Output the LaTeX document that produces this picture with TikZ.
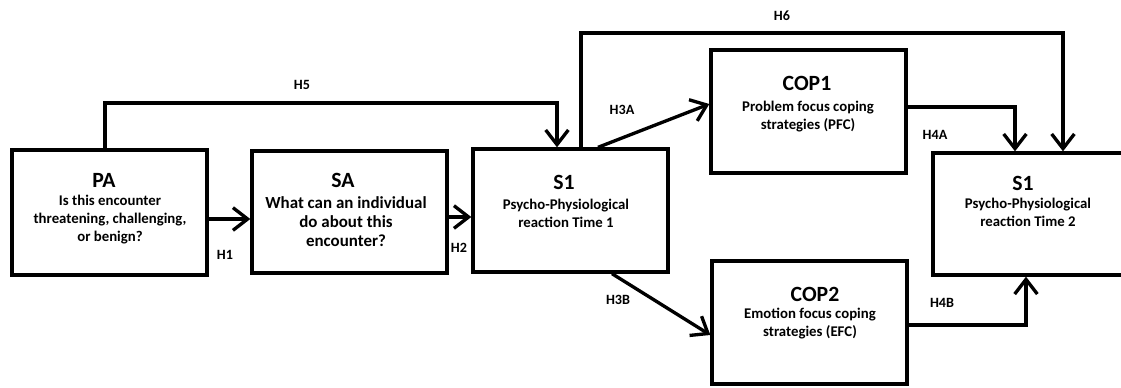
\documentclass[tikz,border=0pt]{standalone}
\usepackage{fontspec}
\setmainfont{Carlito}
\usetikzlibrary{arrows.meta}
\begin{document}
\begin{tikzpicture}[x=0.75pt,y=-0.75pt,
  box/.style={draw=black,line width=2.5pt,rectangle,inner sep=0pt},
  ttl/.style={font=\bfseries\fontsize{16.3}{18}\selectfont,inner sep=0pt},
  body/.style={font=\bfseries\fontsize{11.1}{13.5}\selectfont,align=center,inner sep=0pt},
  bodyL/.style={font=\bfseries\fontsize{12.7}{14.3}\selectfont,align=center,inner sep=0pt},
  lab/.style={font=\bfseries\fontsize{10.6}{12}\selectfont,inner sep=0pt},
  conn/.style={line width=2.5pt,-{Straight Barb[length=11pt,width=17pt,line width=2.5pt]}},
]
\useasboundingbox (0,0) rectangle (1121,387);
\clip (0,0) rectangle (1121,387);
% boxes
\node[box,minimum width=195*0.75pt,minimum height=125*0.75pt] (PA) at (109.5,212.5) {};
\node[box,minimum width=195*0.75pt,minimum height=122*0.75pt] (SA) at (349.5,212) {};
\node[box,minimum width=195*0.75pt,minimum height=123*0.75pt] (S1) at (570.5,210.5) {};
\node[box,minimum width=195*0.75pt,minimum height=123*0.75pt] (COP1) at (808.5,111.5) {};
\node[box,minimum width=195*0.75pt,minimum height=123*0.75pt] (COP2) at (809.5,322.5) {};
\node[box,minimum width=200*0.75pt,minimum height=122*0.75pt] (S2) at (1033,214) {};
% texts
\node[ttl] (PAt) at (104,180) {PA};
\node[body] (PAb) at (110,220) {Is this encounter\\threatening, challenging,\\or benign?};
\node[ttl] (SAt) at (343,180) {SA};
\node[bodyL] (SAb) at (346,222) {What can an individual\\do about this\\encounter?};
\node[ttl] (S1t) at (564,182) {S1};
\node[body] (S1b) at (566,213) {Psycho-Physiological\\reaction Time 1};
\node[ttl] (C1t) at (807,83) {COP1};
\node[body] (C1b) at (808,116.5) {Problem focus coping\\strategies (PFC)};
\node[ttl] (C2t) at (815,294) {COP2};
\node[body] (C2b) at (810,324) {Emotion focus coping\\strategies (EFC)};
\node[ttl] (S2t) at (1023,183) {S1};
\node[body] (S2b) at (1028,212.5) {Psycho-Physiological\\reaction Time 2};
% labels
\node[lab] (lH5) at (302,85) {H5};
\node[lab] (lH1) at (225,255) {H1};
\node[lab] (lH2) at (459,248) {H2};
\node[lab] (lH3A) at (622,110) {H3A};
\node[lab] (lH3B) at (618,300) {H3B};
\node[lab] (lH6) at (782,16) {H6};
\node[lab] (lH4A) at (935,135) {H4A};
\node[lab] (lH4B) at (942,303) {H4B};
% connectors
\draw[conn] (PA.east |- 0,219) -- (SA.west |- 0,219);
\draw[conn] (SA.east |- 0,217) -- (S1.west |- 0,217);
\draw[conn] (PA.north -| 105,0) -- (105,103) -- (557,103) -- (S1.north -| 557,0);
\draw[conn] (S1.north -| 581,0) -- (581,33) -- (1063,33) -- (S2.north -| 1063,0);
\draw[conn] (S1.north -| 598,0) -- (COP1.west |- 0,104);
\draw[conn] (S1.south -| 612,0) -- (COP2.west |- 0,335);
\draw[conn] (COP1.east |- 0,107) -- (1015,107) -- (S2.north -| 1015,0);
\draw[conn] (COP2.east |- 0,325) -- (1026,325) -- (S2.south -| 1026,0);
\end{tikzpicture}
\end{document}
